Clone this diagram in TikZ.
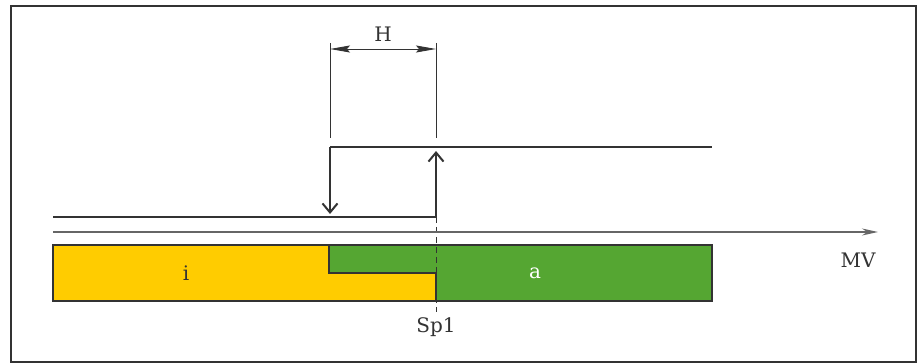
\documentclass[tikz,border=0pt]{standalone}
\usepackage{fontspec}
\setmainfont{DejaVu Serif}
\usetikzlibrary{arrows.meta}
\definecolor{ink}{HTML}{333333}
\definecolor{yel}{HTML}{FFCC00}
\definecolor{grn}{HTML}{55A632}
\tikzset{
  sig/.style={draw=ink, line width=2pt},
  thin/.style={draw=ink, line width=0.9pt},
  lbl/.style={text=ink, font=\fontsize{20}{22}\selectfont, inner sep=0pt},
  barb/.style={-{Straight Barb[length=9pt,width=15pt,line width=2pt]}},
}
\begin{document}
\begin{tikzpicture}[x=1pt,y=-1pt]
\useasboundingbox (0,0) rectangle (921,363);
% frame
\draw[ink, line width=1.8pt] (11,6) rectangle (916,362);
% coordinates
\coordinate (L0) at (53,217);
\coordinate (L1) at (436,217);
\coordinate (U0) at (330,147);
\coordinate (U1) at (712,147);
\coordinate (Dn) at (330,214);
\coordinate (Up) at (436,151);
% bars
\fill[yel] (53,245) rectangle (436,301);
\fill[grn] (436,245) rectangle (712,301);
\fill[grn] (329,245) rectangle (436,273);
\draw[ink, line width=1.2pt] (53,245) -- (712,245) -- (712,301) -- (53,301) -- cycle;
\draw[ink, line width=1.2pt] (329,245) -- (329,273) -- (436,273) -- (436,301);
% dashed setpoint line
\draw[ink, line width=0.9pt, dash pattern=on 6pt off 4pt] (436,217) -- (436,312);
% axis
\coordinate (A0) at (53,232);
\coordinate (A1) at (878,232);
\draw[draw=ink!75, line width=1.5pt, -{Stealth[length=16pt,width=7pt]}] (A0) -- (A1);
% signal lines
\draw[sig] (L0) -- (L1);
\draw[sig] (U0) -- (U1);
\draw[sig, barb] (U0) -- (Dn);
\draw[sig, barb] (L1) -- (Up);
% dimension H
\coordinate (E0a) at (330,43);
\coordinate (E0b) at (330,138);
\coordinate (E1a) at (436,43);
\coordinate (E1b) at (436,138);
\draw[thin] (E0a) -- (E0b);
\draw[thin] (E1a) -- (E1b);
\coordinate (H0) at (330,49);
\coordinate (H1) at (436,49);
\draw[thin, {Stealth[length=20pt,width=7pt,inset=3pt]}-{Stealth[length=20pt,width=7pt,inset=3pt]}] (H0) -- (H1);
% labels
\node[lbl] (H) at (383,34) {H};
\node[lbl] (MV) at (858,260) {MV};
\node[lbl] (Sp) at (436,327) {Sp1};
\node[lbl] (i) at (186,273) {i};
\node[lbl, text=white] (a) at (535,273) {a};
\end{tikzpicture}
\end{document}
